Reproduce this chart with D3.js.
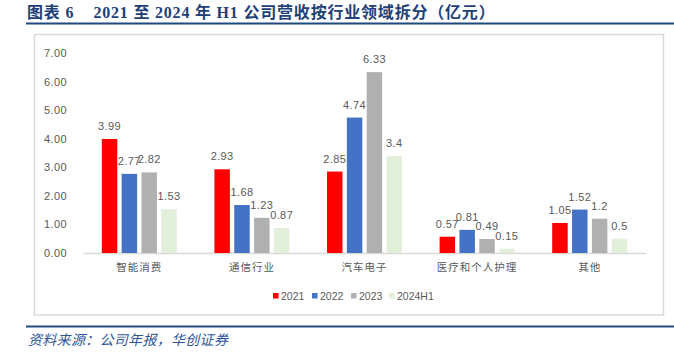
<!DOCTYPE html>
<html>
<head>
<meta charset="utf-8">
<script src="https://cdn.jsdelivr.net/npm/d3@7"></script>
<style>
  html, body { margin: 0; padding: 0; background: #fff; }
  svg { display: block; }
</style>
</head>
<body>
<svg id="chart" width="674" height="358"></svg>
<script>
const categories = ["智能消费", "通信行业", "汽车电子", "医疗和个人护理", "其他"];
const seriesNames = ["2021", "2022", "2023", "2024H1"];
const v2021 = [3.99, 2.93, 2.85, 0.57, 1.05];
const v2022 = [2.77, 1.68, 4.74, 0.81, 1.52];
const v2023 = [2.82, 1.23, 6.33, 0.49, 1.2];
const v2024H1 = [1.53, 0.87, 3.4, 0.15, 0.5];
const yTicks = [0, 1, 2, 3, 4, 5, 6, 7];
const colors = ["#FF0000", "#4472C4", "#B0B0B0", "#E2EFDA"];
const titleText = "图表 6\u00a0\u00a0\u00a0\u00a02021 至 2024 年 H1 公司营收按行业领域拆分（亿元）";
const sourceText = "资料来源：公司年报，华创证券";

const seriesValues = [v2021, v2022, v2023, v2024H1];
const svg = d3.select("#chart");

// Title
svg.append("text")
  .attr("x", 27).attr("y", 18)
  .attr("font-family", "'Liberation Serif', 'Noto Sans CJK SC', serif")
  .attr("font-weight", "bold")
  .attr("font-size", 16)
  .attr("letter-spacing", 0.8)
  .attr("fill", "#1F3F77")
  .text(titleText);

svg.append("line")
  .attr("x1", 26).attr("x2", 674).attr("y1", 23.5).attr("y2", 23.5)
  .attr("stroke", "#1F4A7F").attr("stroke-width", 2);

// chart box
svg.append("rect")
  .attr("x", 34.5).attr("y", 34.5).attr("width", 629).attr("height", 280.5)
  .attr("fill", "#fff").attr("stroke", "#D9D9D9").attr("stroke-width", 1.5);

// bottom line + source
svg.append("line")
  .attr("x1", 26).attr("x2", 674).attr("y1", 326.5).attr("y2", 326.5)
  .attr("stroke", "#1F4A7F").attr("stroke-width", 2);

svg.append("text")
  .attr("x", 28).attr("y", 345)
  .attr("font-family", "'Noto Sans CJK SC', sans-serif")
  .attr("font-style", "italic")
  .attr("font-size", 14)
  .attr("letter-spacing", 0.3)
  .attr("fill", "#2F5597")
  .text(sourceText);

// scales
const y = d3.scaleLinear().domain([0, 7]).range([253, 53]);
const x0 = d3.scaleBand().domain(categories).range([83, 646]).paddingInner(0).paddingOuter(0);
const bw = x0.bandwidth();
const x1 = d3.scaleBand().domain(seriesNames).range([bw * 0.167, bw * 0.833]).paddingInner(0.22).paddingOuter(0);

const labelColor = "#595959";

// y axis
const yAxis = d3.axisLeft(y).tickValues(yTicks).tickFormat(d3.format(".2f")).tickSize(0).tickPadding(0);
const yg = svg.append("g").attr("transform", "translate(67,0)").call(yAxis);
yg.select(".domain").remove();
yg.selectAll("text")
  .attr("font-family", "'Liberation Sans', Arial, sans-serif")
  .attr("font-size", 11)
  .attr("letter-spacing", 0.4)
  .attr("fill", labelColor);

// x axis
const xAxis = d3.axisBottom(x0).tickSize(0).tickPadding(0);
const xg = svg.append("g").attr("transform", "translate(0,253)").call(xAxis);
xg.select(".domain").attr("stroke", "#D9D9D9").attr("stroke-width", 1.5);
xg.selectAll("text")
  .attr("y", 18)
  .attr("dy", 0)
  .attr("font-family", "'Noto Sans CJK SC', sans-serif")
  .attr("font-size", 10.5)
  .attr("letter-spacing", 1)
  .attr("fill", labelColor);

// bars
const groups = svg.append("g").selectAll("g")
  .data(categories)
  .join("g")
  .attr("transform", d => `translate(${x0(d)},0)`);

seriesNames.forEach((s, si) => {
  groups.append("rect")
    .attr("x", x1(s))
    .attr("width", x1.bandwidth())
    .attr("y", (d, ci) => y(seriesValues[si][ci]))
    .attr("height", (d, ci) => y(0) - y(seriesValues[si][ci]))
    .attr("fill", colors[si]);
});

seriesNames.forEach((s, si) => {
  groups.append("text")
    .attr("x", x1(s) + x1.bandwidth() / 2)
    .attr("y", (d, ci) => y(seriesValues[si][ci]) - 9)
    .attr("text-anchor", "middle")
    .attr("font-family", "'Liberation Sans', Arial, sans-serif")
    .attr("font-size", 11)
    .attr("letter-spacing", 0.4)
    .attr("fill", labelColor)
    .text((d, ci) => seriesValues[si][ci]);
});

// legend
const legendX = [273, 312, 351, 389];
const lg = svg.append("g");
seriesNames.forEach((s, i) => {
  lg.append("rect")
    .attr("x", legendX[i]).attr("y", 293)
    .attr("width", 5.5).attr("height", 5.5)
    .attr("fill", colors[i]);
  lg.append("text")
    .attr("x", legendX[i] + 8).attr("y", 299.5)
    .attr("font-family", "'Liberation Sans', Arial, sans-serif")
    .attr("font-size", 10.5)
    .attr("fill", labelColor)
    .text(s);
});
</script>
</body>
</html>
